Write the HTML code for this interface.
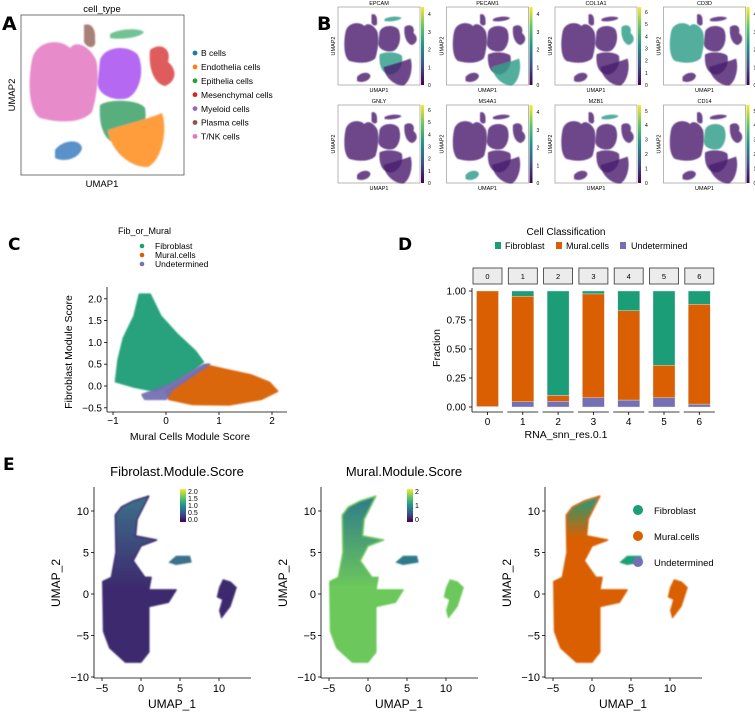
<!DOCTYPE html>
<html><head><meta charset="utf-8"><style>
body{margin:0;background:#fff;}
svg{display:block;font-family:"Liberation Sans",Arial,sans-serif;}
</style></head><body>
<svg id="fig" width="755" height="713" viewBox="0 0 755 713">
<defs>
<filter id="soft" x="-10%" y="-10%" width="120%" height="120%"><feGaussianBlur stdDeviation="0.8"/></filter>
<filter id="soft2" x="-10%" y="-10%" width="120%" height="120%"><feGaussianBlur stdDeviation="1.5"/></filter>
<linearGradient id="viridis" x1="0" y1="1" x2="0" y2="0">
<stop offset="0" stop-color="#440154"/><stop offset="0.25" stop-color="#3b528b"/><stop offset="0.5" stop-color="#21918c"/><stop offset="0.75" stop-color="#5ec962"/><stop offset="1" stop-color="#fde725"/></linearGradient>
<g id="umapA">
<path d="M32,60 C36,40 60,38 70,48 C78,38 92,50 96,60 C100,75 96,100 92,112 C80,125 55,122 40,118 C28,110 28,80 32,60Z"/>
<path d="M100,60 C105,45 130,45 138,55 C145,70 140,92 128,98 C115,102 95,95 98,80Z"/>
<path d="M100,105 C110,98 140,100 145,108 C148,125 140,140 125,145 C110,146 98,135 100,105Z"/>
<path d="M108,130 C125,125 150,118 162,113 C168,130 162,160 148,167 C130,168 110,150 108,130Z"/>
<path d="M55,150 C62,140 80,138 82,148 C80,158 65,163 55,158Z"/>
<path d="M150,50 C160,42 172,48 168,62 C178,70 176,82 165,86 C155,84 148,70 150,50Z"/>
<path d="M84,25 C92,22 96,30 95,40 C97,48 88,50 84,42Z"/>
<path d="M110,34 C120,28 140,28 144,32 C140,38 120,40 110,38Z"/>
</g>
</defs>

<g>
<text x="2" y="30" font-size="19" font-weight="bold" font-family="DejaVu Sans">A</text>
<text x="102" y="12" font-size="9.5" text-anchor="middle">cell_type</text>
<rect x="21" y="15" width="163" height="160" fill="none" stroke="#555" stroke-width="0.8"/>
<g filter="url(#soft)" opacity="0.85">
<path d="M32,60 C36,40 60,38 70,48 C78,38 92,50 96,60 C100,75 96,100 92,112 C80,125 55,122 40,118 C28,110 28,80 32,60Z" fill="#e377c2"/>
<path d="M100,60 C105,45 130,45 138,55 C145,70 140,92 128,98 C115,102 95,95 98,80Z" fill="#a94ff0"/>
<path d="M100,105 C110,98 140,100 145,108 C148,125 140,140 125,145 C110,146 98,135 100,105Z" fill="#3ea068"/>
<path d="M108,130 C125,125 150,118 162,113 C168,130 162,160 148,167 C130,168 110,150 108,130Z" fill="#ff8c1a"/>
<path d="M55,150 C62,140 80,138 82,148 C80,158 65,163 55,158Z" fill="#3a80c0"/>
<path d="M150,50 C160,42 172,48 168,62 C178,70 176,82 165,86 C155,84 148,70 150,50Z" fill="#d94040"/>
<path d="M84,25 C92,22 96,30 95,40 C97,48 88,50 84,42Z" fill="#9a6a5e"/>
<path d="M110,34 C120,28 140,28 144,32 C140,38 120,40 110,38Z" fill="#5ab982"/>
</g>
<text x="102" y="187" font-size="9.5" text-anchor="middle">UMAP1</text>
<text transform="translate(15,95) rotate(-90)" font-size="9.5" text-anchor="middle">UMAP2</text>
<g id="legA" font-size="8.5"></g>
</g>

<g id="panelB">
<text x="317" y="30" font-size="19" font-weight="bold" font-family="DejaVu Sans">B</text>
</g>

<g>
<text x="8" y="250" font-size="17" font-weight="bold" font-family="DejaVu Sans">C</text>
<text x="118" y="234" font-size="9">Fib_or_Mural</text>
<circle cx="142" cy="246" r="2.3" fill="#1b9e77"/><text x="155" y="249" font-size="8.5">Fibroblast</text>
<circle cx="142" cy="255" r="2.3" fill="#d95f02"/><text x="155" y="258" font-size="8.5">Mural.cells</text>
<circle cx="142" cy="264" r="2.3" fill="#7570b3"/><text x="155" y="267" font-size="8.5">Undetermined</text>
<g id="scatterC"></g>
<text x="190" y="440" font-size="10.5" text-anchor="middle">Mural Cells Module Score</text>
<text transform="translate(72,352) rotate(-90)" font-size="10.5" text-anchor="middle">Fibroblast Module Score</text>
</g>

<g id="panelD">
<text x="398" y="250" font-size="17" font-weight="bold" font-family="DejaVu Sans">D</text>
<text x="566" y="235" font-size="10" text-anchor="middle">Cell Classification</text>
<rect x="495" y="242" width="6" height="7" fill="#1b9e77"/><text x="505" y="249" font-size="9">Fibroblast</text>
<rect x="556" y="242" width="6" height="7" fill="#d95f02"/><text x="566" y="249" font-size="9">Mural.cells</text>
<rect x="620" y="242" width="6" height="7" fill="#7570b3"/><text x="631" y="249" font-size="9">Undetermined</text>
<text x="566" y="438" font-size="10.5" text-anchor="middle">RNA_snn_res.0.1</text>
<text transform="translate(440,348) rotate(-90)" font-size="10.5" text-anchor="middle">Fraction</text>
</g>

<g id="panelE">
<text x="3" y="470" font-size="17" font-weight="bold" font-family="DejaVu Sans">E</text>
</g>
</svg>
<script>
var NS="http://www.w3.org/2000/svg";
function mk(tag,attrs,parent,txt){var e=document.createElementNS(NS,tag);for(var k in attrs)e.setAttribute(k,attrs[k]);if(txt!==undefined)e.textContent=txt;parent.appendChild(e);return e;}

var cellTypes=["B cells","Endothelia cells","Epithelia cells","Mesenchymal cells","Myeloid cells","Plasma cells","T/NK cells"];
var cellColors=["#1f77b4","#ff7f0e","#2ca02c","#d62728","#9467bd","#8c564b","#e377c2"];
var legA=document.getElementById("legA");
cellTypes.forEach(function(t,i){
 var y=53+i*13.9;
 var c=mk("circle",{cx:195,cy:y,r:2.4,fill:cellColors[i]},legA);
 
 
 var tx=mk("text",{x:201,y:y+3.2},legA,t);
 
 
});

var genes=["EPCAM","PECAM1","COL1A1","CD3D","GNLY","MS4A1","MZB1","CD14"];
var geneMax=[4,4,6,4,6,4,5,5];
var hiIdx=[[2,7],[3],[5],[0],[],[4],[7],[1]];
var pB=document.getElementById("panelB");
var shapes=document.querySelectorAll("#umapA path");
genes.forEach(function(g,i){
 var col=i%4,row=Math.floor(i/4);
 var bx=338+col*108.5,by=7+row*98,bw=82,bh=78;
 var grp=mk("g",{},pB);
 
 
 mk("text",{x:bx+bw/2,y:by-2,"font-size":5.5,"text-anchor":"middle"},grp,g);
 mk("rect",{x:bx,y:by,width:bw,height:bh,fill:"none",stroke:"#999","stroke-width":0.7},grp);
 var inner=mk("g",{transform:"translate("+(bx-8.5)+","+(by-5)+") scale(0.5,0.5)",filter:"url(#soft)"},grp);
 shapes.forEach(function(s,k){
  var hi=hiIdx[i].indexOf(k)>=0;
  mk("path",{d:s.getAttribute("d"),fill:hi?"#35a08c":"#4a1a6e",opacity:hi?0.85:0.8},inner);
 });
 mk("rect",{x:bx+bw+1,y:by,width:3,height:bh,fill:"url(#viridis)"},grp);
 var mx=geneMax[i];
 for(var t=0;t<=mx;t++){
  var ty=by+bh-(t/(mx+0.4))*bh;
  mk("text",{x:bx+bw+8,y:ty+2,"font-size":5},grp,String(t));
 }
 mk("text",{x:bx+bw/2,y:by+bh+7,"font-size":5.5,"text-anchor":"middle"},grp,"UMAP1");
 mk("text",{transform:"translate("+(bx-3)+","+(by+bh/2)+") rotate(-90)","font-size":5.5,"text-anchor":"middle"},grp,"UMAP2");
});

// Panel C
var cXticks=[-1,0,1,2];
var cYticks=[-0.5,0.0,0.5,1.0,1.5,2.0];
var fibCloud=[[-0.95,0.1],[-0.9,0.6],[-0.8,1.1],[-0.6,1.6],[-0.5,2.1],[-0.3,2.1],[-0.1,1.6],[0.2,1.2],[0.55,0.8],[0.7,0.55],[0.5,0.35],[0.1,0.05],[-0.2,-0.12],[-0.6,-0.02]];
var muralCloud=[[0,-0.1],[0.75,0.48],[1.1,0.38],[1.6,0.25],[1.95,0.08],[2.1,-0.12],[1.8,-0.3],[1.2,-0.43],[0.5,-0.42],[0.05,-0.3]];
var undetBand=[[-0.45,-0.2],[0.05,0.02],[0.7,0.48],[0.82,0.5],[0.12,-0.08],[0,-0.3],[-0.4,-0.3]];
function cx(v){return 166+v*53;}
function cy(v){return 386-v*43.6;}
var sc=document.getElementById("scatterC");
function poly(pts,fill,name){
 var d=pts.map(function(p,i){return (i?"L":"M")+cx(p[0]).toFixed(1)+","+cy(p[1]).toFixed(1);}).join("")+"Z";
 var e=mk("path",{d:d,fill:fill,stroke:fill,"stroke-width":2,"stroke-linejoin":"round",opacity:0.95,filter:"url(#soft)"},sc);
 
 
}
poly(fibCloud,"#1b9e77","fibroblast-points");
poly(muralCloud,"#d95f02","mural-points");
poly(undetBand,"#7570b3","undetermined-points");
mk("line",{x1:107,y1:287,x2:107,y2:412,stroke:"#000","stroke-width":0.8},sc);
mk("line",{x1:107,y1:412,x2:287,y2:412,stroke:"#000","stroke-width":0.8},sc);
cXticks.forEach(function(v){mk("line",{x1:cx(v),y1:412,x2:cx(v),y2:415,stroke:"#000","stroke-width":0.8},sc);mk("text",{x:cx(v),y:424,"font-size":10,"text-anchor":"middle"},sc,v<0?"\u2212"+Math.abs(v):String(v));});
cYticks.forEach(function(v){mk("line",{x1:104,y1:cy(v),x2:107,y2:cy(v),stroke:"#000","stroke-width":0.8},sc);mk("text",{x:102,y:cy(v)+3.5,"font-size":10,"text-anchor":"end"},sc,(v<0?"\u2212":"")+Math.abs(v).toFixed(1));});

// Panel D
var clusters=["0","1","2","3","4","5","6"];
var undetFrac=[0.005,0.045,0.05,0.08,0.06,0.08,0.025];
var muralFrac=[0.995,0.91,0.05,0.895,0.77,0.28,0.86];
var fibFrac=[0.0,0.045,0.90,0.025,0.17,0.64,0.115];
var dYticks=[0,0.25,0.5,0.75,1.0];
var pD=document.getElementById("panelD");
function dy(v){return 407-v*116;}
function dx(i){return 473+i*35.3;}
dYticks.forEach(function(v){mk("text",{x:466,y:dy(v)+3.5,"font-size":10,"text-anchor":"end"},pD,v.toFixed(2));mk("line",{x1:469,y1:dy(v),x2:472,y2:dy(v),stroke:"#000","stroke-width":0.8},pD);});
mk("line",{x1:472,y1:288,x2:472,y2:412,stroke:"#000","stroke-width":0.8},pD);
clusters.forEach(function(c,i){
 var x0=dx(i);
 var g=mk("g",{},pD);
 
 
 mk("rect",{x:x0,y:268,width:29,height:16,fill:"#ececec",stroke:"#333","stroke-width":0.8},g);
 mk("text",{x:x0+14.5,y:279,"font-size":7.5,"text-anchor":"middle"},g,c);
 var bx=x0+3.5,bw=22;
 var segs=[[0,undetFrac[i],"#7570b3","bar-undetermined-"],[undetFrac[i],undetFrac[i]+muralFrac[i],"#d95f02","bar-mural-"],[undetFrac[i]+muralFrac[i],undetFrac[i]+muralFrac[i]+fibFrac[i],"#1b9e77","bar-fibroblast-"]];
 segs.forEach(function(s){
  if(s[1]-s[0]<=0)return;
  var r=mk("rect",{x:bx,y:dy(s[1]),width:bw,height:dy(s[0])-dy(s[1]),fill:s[2],stroke:"#e8e8e8","stroke-width":0.4},g);
  
  
 });
 mk("line",{x1:x0-1,y1:412,x2:x0+30,y2:412,stroke:"#000","stroke-width":0.8},g);
 mk("line",{x1:x0+14.5,y1:412,x2:x0+14.5,y2:415,stroke:"#000","stroke-width":0.8},g);
 mk("text",{x:x0+14.5,y:425,"font-size":10,"text-anchor":"middle"},g,c);
});

// Panel E
var eXticks=[-5,0,5,10];
var eYticks=[-10,-5,0,5,10];
var mainBody=[[-4.8,-4.5],[-4.9,1.5],[-3.8,2],[-3.2,5],[-3.3,9.5],[-2.5,10.5],[-1,11.2],[1,11.8],[-0.5,9],[-0.7,7],[2,6.5],[0,5.8],[-1,4],[0.5,2],[1.3,2],[1,0.5],[4.5,0.5],[3.5,-1],[1,-1.5],[1,-7],[0,-8.2],[-2,-8.2],[-4,-6.5]];
var smallIsle=[[3.5,3.8],[4.5,4.6],[6.3,4.6],[6.5,3.8],[4.5,3.5]];
var rightIsle=[[10,0.8],[10.5,1.8],[11.5,1.5],[12.3,0.8],[11.5,-1.5],[10.3,-3],[10,-2],[10.4,-0.7],[9.7,-0.4]];
var plotOffsets=[0,227,451];
var eTitles=["Fibrolast.Module.Score","Mural.Module.Score",""];
var pE=document.getElementById("panelE");
function ex(v,p){return 141+plotOffsets[p]+v*7.8;}
function ey(v){return 594-v*8.3;}
function ePath(pts,p){return pts.map(function(q,i){return (i?"L":"M")+ex(q[0],p).toFixed(1)+","+ey(q[1]).toFixed(1);}).join("")+"Z";}
var fills=[["#3e2a6e","#3b6f8a"],["#6cc85a","#2e7a8a"],["#d95f02","#1b9e77"]];
for(var p=0;p<3;p++){
 var g=mk("g",{},pE);
 
 
 var ox=plotOffsets[p];
 if(eTitles[p])mk("text",{x:177+ox,y:476,"font-size":13,"text-anchor":"middle"},g,eTitles[p]);
 var grad=mk("linearGradient",{id:"eg"+p,x1:0,y1:1,x2:0,y2:0},g);
 mk("stop",{offset:0,"stop-color":fills[p][0]},grad);
 mk("stop",{offset:p==2?0.75:0.45,"stop-color":fills[p][0]},grad);
 mk("stop",{offset:1,"stop-color":fills[p][1]},grad);
 var body=mk("g",{filter:"url(#soft)"},g);
 [mainBody,smallIsle,rightIsle].forEach(function(sh,k){
  var e=mk("path",{d:ePath(sh,p),fill:k==0?"url(#eg"+p+")":(p==2?(k==1?"#1b9e77":"#d95f02"):fills[p][k==1?1:0]),stroke:k==0?fills[p][0]:"none","stroke-width":1.5,"stroke-linejoin":"round"},body);
  
  
 });
 mk("line",{x1:94+ox,y1:487,x2:94+ox,y2:678,stroke:"#000","stroke-width":0.8},g);
 mk("line",{x1:94+ox,y1:678,x2:251+ox,y2:678,stroke:"#000","stroke-width":0.8},g);
 eXticks.forEach(function(v){mk("line",{x1:ex(v,p),y1:678,x2:ex(v,p),y2:681,stroke:"#000","stroke-width":0.8},g);mk("text",{x:ex(v,p),y:692,"font-size":11,"text-anchor":"middle"},g,v<0?"\u2212"+Math.abs(v):String(v));});
 eYticks.forEach(function(v){mk("line",{x1:91+ox,y1:ey(v),x2:94+ox,y2:ey(v),stroke:"#000","stroke-width":0.8},g);mk("text",{x:89+ox,y:ey(v)+4,"font-size":11,"text-anchor":"end"},g,v<0?"\u2212"+Math.abs(v):String(v));});
 mk("text",{x:172+ox,y:708,"font-size":12,"text-anchor":"middle"},g,"UMAP_1");
 mk("text",{transform:"translate("+(60+ox)+",583) rotate(-90)","font-size":12,"text-anchor":"middle"},g,"UMAP_2");
}
var cb1=["2.0","1.5","1.0","0.5","0.0"], cb2=["2","1","0"];
[[cb1,0],[cb2,1]].forEach(function(cb){
 var ox=plotOffsets[cb[1]];
 var g=mk("g",{},pE);
 
 
 mk("rect",{x:180+ox,y:489,width:6,height:33,fill:"url(#viridis)"},g);
 cb[0].forEach(function(l,i){mk("text",{x:188+ox,y:494+i*(28/(cb[0].length-1)),"font-size":7},g,l);});
});
var eLeg=["Fibroblast","Mural.cells","Undetermined"], eCol=["#1b9e77","#d95f02","#7570b3"];
eLeg.forEach(function(l,i){
 var c=mk("circle",{cx:638,cy:510+i*26,r:5,fill:eCol[i]},pE);
 
 
 var t=mk("text",{x:654,y:514+i*26,"font-size":9.5},pE,l);
 
 
});
</script>
</body></html>
